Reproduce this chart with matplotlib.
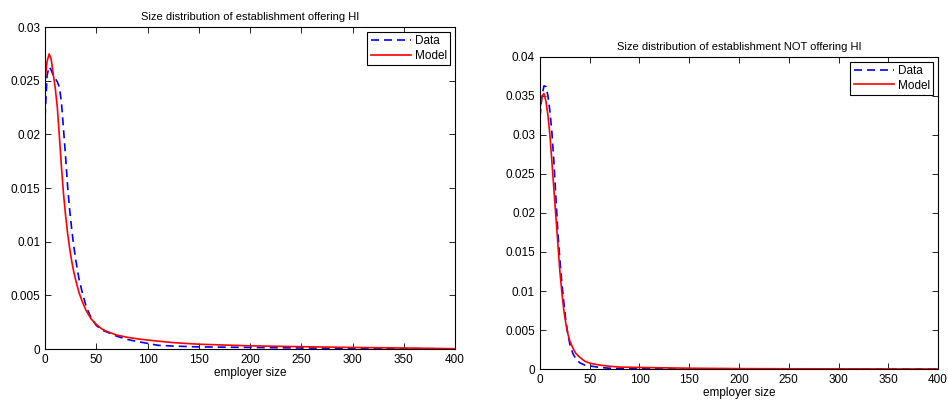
import matplotlib
matplotlib.use("Agg")
import matplotlib.pyplot as plt

plt.rcParams["font.family"] = ["Liberation Sans", "DejaVu Sans"]
plt.rcParams["font.size"] = 8.5

# establishments offering HI
hi_x = [0, 2, 4, 6, 8, 10, 12, 14, 16, 18, 20, 22, 24, 26, 28, 30, 33, 36,
        40, 45, 50, 55, 60, 70, 80, 90, 100, 110, 125, 150, 200, 250, 300,
        350, 400]
hi_data = [0.0216, 0.0255, 0.0263, 0.0260, 0.0255, 0.0252, 0.0249, 0.0244,
           0.0230, 0.0205, 0.0180, 0.0152, 0.0130, 0.0112, 0.0096, 0.0083,
           0.0066, 0.0054, 0.0040, 0.0029, 0.0022, 0.0018, 0.0016, 0.0012,
           0.0009, 0.0007, 0.00053, 0.00035, 0.00028, 0.0002, 0.00015,
           0.0001, 0.00006, 0.00004, 0.00002]
hi_model = [0.0250, 0.0268, 0.0275, 0.0270, 0.0256, 0.0243, 0.0225, 0.0198,
            0.0170, 0.0145, 0.0125, 0.0108, 0.0094, 0.0082, 0.0072, 0.0064,
            0.0053, 0.0045, 0.0036, 0.0028, 0.0023, 0.0019, 0.00165, 0.0013,
            0.0011, 0.00095, 0.00084, 0.00074, 0.0006, 0.00045, 0.0003,
            0.00022, 0.00015, 0.0001, 0.00003]

# establishments NOT offering HI
no_x = [0, 2, 4, 6, 8, 10, 12, 14, 16, 18, 20, 22, 24, 26, 28, 30, 33, 36,
        40, 45, 50, 60, 70, 80, 100, 150, 200, 250, 300, 350, 400]
no_data = [0.0323, 0.0350, 0.0363, 0.0362, 0.0350, 0.0330, 0.0303, 0.0265,
           0.0220, 0.0175, 0.0140, 0.0110, 0.0085, 0.0062, 0.0045, 0.0032,
           0.0020, 0.0013, 0.0008, 0.0005, 0.0004, 0.0002, 0.0001, 0.00006,
           0.00003, 0.00001, 0, 0, 0, 0, 0]
no_model = [0.0334, 0.0350, 0.0353, 0.0343, 0.0325, 0.0300, 0.0265, 0.0230,
            0.0195, 0.0160, 0.0125, 0.0098, 0.0075, 0.0058, 0.0045, 0.0036,
            0.0027, 0.0020, 0.0015, 0.0010, 0.00075, 0.0005, 0.00035,
            0.00025, 0.0002, 0.0001, 0.00005, 0.00003, 0.00002, 0.00001, 0]


def panel(ax, x, data, model, ymax, title):
    ax.plot(x, data, color="blue", lw=1.2, dashes=(4.8, 3), label="Data")
    ax.plot(x, model, color="red", lw=1.2, label="Model")
    ax.set_xlim(0, 400)
    ax.set_ylim(0, ymax)
    ax.set_xticks(range(0, 401, 50))
    ax.set_title(title, fontsize=8, pad=5)
    ax.set_xlabel("employer size", labelpad=1)
    ax.tick_params(direction="in", top=True, right=True, length=4,
                   width=0.6, labelsize=8.5)
    for s in ax.spines.values():
        s.set_linewidth(0.8)
    leg = ax.legend(loc="upper right", fontsize=8.5, handlelength=3.4,
                    borderaxespad=0.4, borderpad=0.3, labelspacing=0.2,
                    handletextpad=0.3, fancybox=False, framealpha=1)
    leg.get_frame().set_edgecolor("black")
    leg.get_frame().set_linewidth(0.8)


fig = plt.figure(figsize=(9.48, 4.04), dpi=100)
ax1 = fig.add_axes([0.0475, 0.136, 0.4325, 0.797])
ax2 = fig.add_axes([0.5696, 0.0866, 0.4199, 0.7724])

panel(ax1, hi_x, hi_data, hi_model, 0.03,
      "Size distribution of establishment offering HI")
ax1.set_yticks([0, 0.005, 0.01, 0.015, 0.02, 0.025, 0.03])
ax1.set_yticklabels(["0", "0.005", "0.01", "0.015", "0.02", "0.025", "0.03"])

panel(ax2, no_x, no_data, no_model, 0.04,
      "Size distribution of establishment NOT offering HI")
ax2.set_yticks([0, 0.005, 0.01, 0.015, 0.02, 0.025, 0.03, 0.035, 0.04])
ax2.set_yticklabels(["0", "0.005", "0.01", "0.015", "0.02", "0.025",
                     "0.03", "0.035", "0.04"])

fig.savefig("out.png", dpi=100)
